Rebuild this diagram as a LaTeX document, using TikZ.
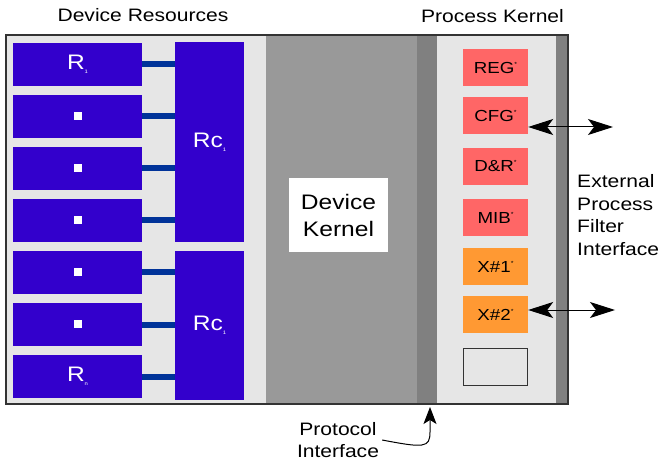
\documentclass[tikz,border=0pt]{standalone}
\usepackage{fontspec}
\setmainfont{Liberation Sans}[FakeStretch=1.17]
\usetikzlibrary{arrows.meta}
\definecolor{resblue}{HTML}{3300CC}
\definecolor{busblue}{HTML}{003399}
\definecolor{pinkred}{HTML}{FF6666}
\definecolor{orangebox}{HTML}{FF9933}
\definecolor{lightpanel}{HTML}{E6E6E6}
\definecolor{kernelgray}{HTML}{999999}
\definecolor{stripgray}{HTML}{808080}
\newcommand{\tinysub}[1]{\raisebox{-4bp}{\fontsize{5bp}{5bp}\selectfont #1}}
\newcommand{\tinystar}{\raisebox{7bp}{\fontsize{6bp}{6bp}\selectfont *}}
\newcommand{\dotmark}{\textcolor{white}{\rule{8bp}{8bp}}}
\tikzset{%
	res/.style = {name = #1, rectangle, fill = resblue, text = white, minimum width = 129bp, minimum height = 43bp, inner sep = 0pt, font = \fontsize{21bp}{21bp}\selectfont},
	rcb/.style = {name = #1, rectangle, fill = resblue, text = white, minimum width = 69bp, inner sep = 0pt, font = \fontsize{21bp}{21bp}\selectfont},
	reg/.style = {name = #1, rectangle, fill = pinkred, minimum width = 65bp, minimum height = 37bp, inner sep = 0pt, font = \fontsize{16bp}{16bp}\selectfont},
	ext/.style = {reg = #1, fill = orangebox},
	bus/.style = {line width = 6bp, draw = busblue},
	lbl/.style = {name = #1, align = center, inner sep = 0pt, font = \fontsize{18bp}{22.5bp}\selectfont},
	io/.style = {line width = 1bp, >={Stealth[length=25bp, width=16bp, inset=6bp]}, <->}
}

\begin{document}
\begin{tikzpicture}[x=1bp, y=-1bp]
			\useasboundingbox (0,0) rectangle (661,465);
			% panels
			\fill [lightpanel] (6,35) rectangle (568,404);
			\fill [kernelgray] (266,36) rectangle (417,403);
			\fill [stripgray] (417,36) rectangle (437,403);
			\fill [stripgray] (556,36) rectangle (568,403);
			\draw [line width = 2bp, draw = black!80] (6,35) rectangle (568,404);
			\node [name = dk, fill = white, minimum width = 99bp, minimum height = 74bp, align = center, font = \fontsize{21bp}{27bp}\selectfont] at (338.5,215) {Device\\Kernel};
			% resources
			\node [res = r1] at (77.5,64.5) {R\tinysub{1}};
			\node [res = r2] at (77.5,116.5) {\dotmark};
			\node [res = r3] at (77.5,168.5) {\dotmark};
			\node [res = r4] at (77.5,220.5) {\dotmark};
			\node [res = r5] at (77.5,272.5) {\dotmark};
			\node [res = r6] at (77.5,324.5) {\dotmark};
			\node [res = r7] at (77.5,376.5) {R\tinysub{n}};
			\node [rcb = rc1, minimum height = 200bp] at (209.5,142) {Rc\tinysub{1}};
			\node [rcb = rc2, minimum height = 149bp] at (209.5,325.5) {Rc\tinysub{1}};
			\draw [bus] (r1.east) -- (r1.east -| rc1.west);
			\draw [bus] (r2.east) -- (r2.east -| rc1.west);
			\draw [bus] (r3.east) -- (r3.east -| rc1.west);
			\draw [bus] (r4.east) -- (r4.east -| rc1.west);
			\draw [bus] (r5.east) -- (r5.east -| rc2.west);
			\draw [bus] (r6.east) -- (r6.east -| rc2.west);
			\draw [bus] (r7.east) -- (r7.east -| rc2.west);
			% process kernel
			\node [reg = regb] at (495.5,67.5) {REG\tinystar};
			\node [reg = cfg] at (495.5,116) {CFG\tinystar};
			\node [reg = dr] at (495.5,166.5) {D\&R\tinystar};
			\node [reg = mib] at (495.5,217.5) {MIB\tinystar};
			\node [ext = x1] at (495.5,267) {X\#1\tinystar};
			\node [ext = x2] at (495.5,314.5) {X\#2\tinystar};
			\node [name = spare, draw = black!80, fill = lightpanel, minimum width = 64bp, minimum height = 37bp] at (495.5,366.5) {};
			\coordinate (cfgout) at (613,127);
			\coordinate (x2out) at (615,310);
			\path [io] (cfgout -| cfg.east) edge (cfgout);
			\path [io] (x2out -| x2.east) edge (x2out);
			% labels
			\node [lbl = devres] at (143,15.5) {Device Resources};
			\node [lbl = prockern] at (492.5,16.5) {Process Kernel};
			\node [lbl = extif, anchor = west, align = left] at (577,215) {External\\Process\\Filter\\Interface};
			\node [lbl = proto] at (338,440) {Protocol\\Interface};
			\coordinate (ptip) at (430,407);
			\draw [line width = 1bp, -{Stealth[length=17bp, width=13bp, inset=4bp]}] ([xshift=3bp]proto.east) .. controls (424,448) and (430,448) .. (430,432) -- (ptip);
			\end{tikzpicture}
\end{document}
